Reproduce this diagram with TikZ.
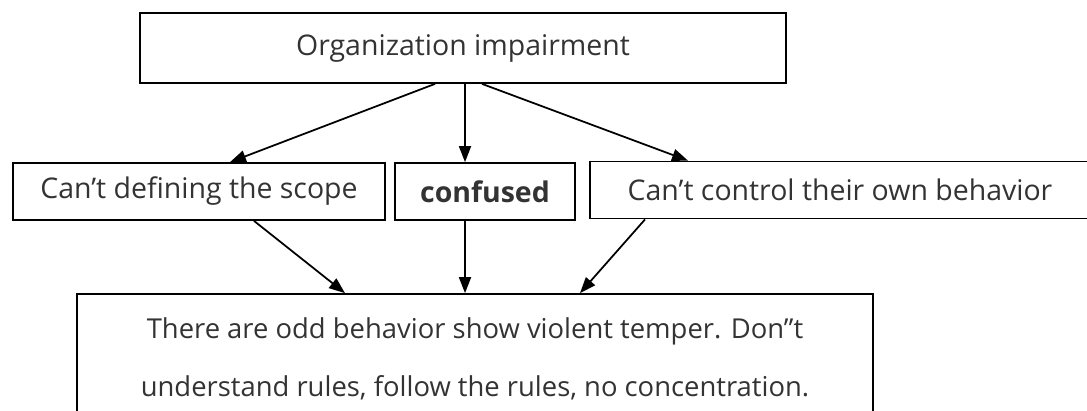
\documentclass[tikz,border=0pt]{standalone}
\usepackage{fontspec}
\setmainfont{Open Sans}
\usetikzlibrary{arrows.meta}
\begin{document}
\begin{tikzpicture}[x=0.02cm,y=-0.02cm,font=\fontsize{16.2}{19}\selectfont,
    box/.style={draw,line width=1pt,inner sep=0pt,text=black!80},
    arr/.style={line width=1pt,-{Triangle[length=0.32cm,width=0.24cm]}}]
    \useasboundingbox (0,0) rectangle (1087,410);
    \clip (0,0) rectangle (1087,410);

    \node[box,minimum width=12.92cm,minimum height=1.4cm] (org) at (463,48) {Organization impairment};

    \node[box,minimum width=7.44cm,minimum height=1.14cm] (scope) at (199,191.5) {Can’t defining the scope};
    \node[box,minimum width=3.6cm,minimum height=1.14cm,font=\fontsize{16.2}{19}\selectfont\bfseries] (conf) at (485,191.5) {confused};
    \node[box,minimum width=10cm,minimum height=1.14cm] (ctrl) at (840,190) {Can’t control their own behavior};

    \node[box,minimum width=15.92cm,minimum height=2.6cm,align=center,font=\fontsize{15.6}{18.5}\selectfont] (odd) at (475,359)
        {There are odd behavior show violent temper. Don"t\\[0.5cm]
         understand rules, follow the rules, no concentration.};

    \draw[arr] ([xshift=-0.56cm]org.south) -- ([xshift=0.62cm]scope.north);
    \draw[arr] ([xshift=0.04cm]org.south) -- ([xshift=-0.4cm]conf.north);
    \draw[arr] ([xshift=0.38cm]org.south) -- ([xshift=-3.04cm]ctrl.north);

    \draw[arr] ([xshift=1.1cm]scope.south) -- ([xshift=-2.6cm]odd.north);
    \draw[arr] ([xshift=-0.4cm]conf.south) -- ([xshift=-0.2cm]odd.north);
    \draw[arr] ([xshift=-3.9cm]ctrl.south) -- ([xshift=2.1cm]odd.north);
\end{tikzpicture}
\end{document}
